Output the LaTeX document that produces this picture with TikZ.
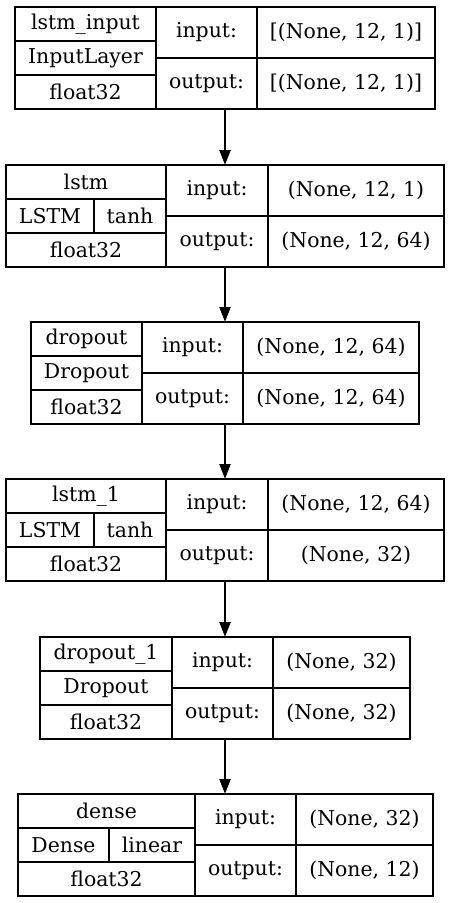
\documentclass[tikz,border=0pt]{standalone}
\usepackage{fontspec}
\setmainfont{DejaVu Serif}
\usepackage{tikz}
\usetikzlibrary{positioning, arrows.meta}

\tikzset{
  cell/.style={draw, line width=0.8pt, inner sep=0pt, rectangle,
               font=\fontsize{15.3}{18}\selectfont},
  wh/.style 2 args={minimum width=#1*0.75pt, minimum height=#2*0.75pt},
  layer/.style={inner sep=0pt, rectangle},
  flow/.style={-{Triangle[length=11pt, width=8.5pt]}, line width=0.8pt}
}

\begin{document}
\begin{tikzpicture}[x=0.75pt, y=-0.75pt]
  \useasboundingbox (0,0) rectangle (450,903);
  % ---- lstm_input ----
  \node[layer, wh={420}{102}] (inp) at (225,58) {};
  \node[cell, wh={141}{34}] (inp-name) at (85.5,24) {lstm\_input};
  \node[cell, wh={141}{34}] (inp-type) at (85.5,58) {InputLayer};
  \node[cell, wh={141}{34}] (inp-dtype) at (85.5,92) {float32};
  \node[cell, wh={101}{51}] (inp-in) at (206.5,32.5) {input:};
  \node[cell, wh={101}{51}] (inp-out) at (206.5,83.5) {output:};
  \node[cell, wh={178}{51}] (inp-inv) at (346,32.5) {[(None, 12, 1)]};
  \node[cell, wh={178}{51}] (inp-outv) at (346,83.5) {[(None, 12, 1)]};
  % ---- lstm ----
  \node[layer, wh={438}{102}] (lstm) at (225,216) {};
  \node[cell, wh={160}{34}] (lstm-name) at (86,182) {lstm};
  \node[cell, wh={88}{34}] (lstm-cls) at (50,216) {LSTM};
  \node[cell, wh={72}{34}] (lstm-act) at (130,216) {tanh};
  \node[cell, wh={160}{34}] (lstm-dtype) at (86,250) {float32};
  \node[cell, wh={102}{51}] (lstm-in) at (217,190.5) {input:};
  \node[cell, wh={102}{51}] (lstm-out) at (217,241.5) {output:};
  \node[cell, wh={176}{51}] (lstm-inv) at (356,190.5) {(None, 12, 1)};
  \node[cell, wh={176}{51}] (lstm-outv) at (356,241.5) {(None, 12, 64)};
  % ---- dropout ----
  \node[layer, wh={388}{102}] (drop) at (225,373) {};
  \node[cell, wh={111}{34}] (drop-name) at (86.5,339) {dropout};
  \node[cell, wh={111}{34}] (drop-type) at (86.5,373) {Dropout};
  \node[cell, wh={111}{34}] (drop-dtype) at (86.5,407) {float32};
  \node[cell, wh={101}{51}] (drop-in) at (192.5,347.5) {input:};
  \node[cell, wh={101}{51}] (drop-out) at (192.5,398.5) {output:};
  \node[cell, wh={176}{51}] (drop-inv) at (331,347.5) {(None, 12, 64)};
  \node[cell, wh={176}{51}] (drop-outv) at (331,398.5) {(None, 12, 64)};
  % ---- lstm_1 ----
  \node[layer, wh={438}{102}] (lstmb) at (225,530) {};
  \node[cell, wh={160}{34}] (lstmb-name) at (86,496) {lstm\_1};
  \node[cell, wh={88}{34}] (lstmb-cls) at (50,530) {LSTM};
  \node[cell, wh={72}{34}] (lstmb-act) at (130,530) {tanh};
  \node[cell, wh={160}{34}] (lstmb-dtype) at (86,564) {float32};
  \node[cell, wh={102}{51}] (lstmb-in) at (217,504.5) {input:};
  \node[cell, wh={102}{51}] (lstmb-out) at (217,555.5) {output:};
  \node[cell, wh={176}{51}] (lstmb-inv) at (356,504.5) {(None, 12, 64)};
  \node[cell, wh={176}{51}] (lstmb-outv) at (356,555.5) {(None, 32)};
  % ---- dropout_1 ----
  \node[layer, wh={370}{102}] (dropb) at (225,688) {};
  \node[cell, wh={132}{34}] (dropb-name) at (106,654) {dropout\_1};
  \node[cell, wh={132}{34}] (dropb-type) at (106,688) {Dropout};
  \node[cell, wh={132}{34}] (dropb-dtype) at (106,722) {float32};
  \node[cell, wh={101}{51}] (dropb-in) at (222.5,662.5) {input:};
  \node[cell, wh={101}{51}] (dropb-out) at (222.5,713.5) {output:};
  \node[cell, wh={137}{51}] (dropb-inv) at (341.5,662.5) {(None, 32)};
  \node[cell, wh={137}{51}] (dropb-outv) at (341.5,713.5) {(None, 32)};
  % ---- dense ----
  \node[layer, wh={415}{102}] (dense) at (225,845) {};
  \node[cell, wh={177}{34}] (dense-name) at (106.5,811) {dense};
  \node[cell, wh={91}{34}] (dense-cls) at (63.5,845) {Dense};
  \node[cell, wh={86}{34}] (dense-act) at (152,845) {linear};
  \node[cell, wh={177}{34}] (dense-dtype) at (106.5,879) {float32};
  \node[cell, wh={101}{51}] (dense-in) at (245.5,819.5) {input:};
  \node[cell, wh={101}{51}] (dense-out) at (245.5,870.5) {output:};
  \node[cell, wh={137}{51}] (dense-inv) at (364.5,819.5) {(None, 32)};
  \node[cell, wh={137}{51}] (dense-outv) at (364.5,870.5) {(None, 12)};
  % ---- connectors ----
  \draw[flow] (inp) -- (lstm);
  \draw[flow] (lstm) -- (drop);
  \draw[flow] (drop) -- (lstmb);
  \draw[flow] (lstmb) -- (dropb);
  \draw[flow] (dropb) -- (dense);
\end{tikzpicture}
\end{document}
